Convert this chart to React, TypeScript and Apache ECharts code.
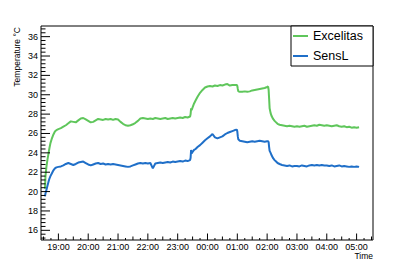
import React, { useEffect, useRef } from "react";
import * as echarts from "echarts";

const times = [
  "18:33","18:34","18:36","18:38","18:40","18:42","18:44","18:47","18:50","18:53","18:56",
  "19:00","19:05","19:10","19:15","19:20","19:25","19:30","19:35","19:40","19:45","19:50","19:55",
  "20:00","20:05","20:10","20:15","20:20","20:25","20:30","20:35","20:40","20:45","20:50","20:55",
  "21:00","21:05","21:10","21:15","21:20","21:25","21:30","21:35","21:40","21:45","21:50","21:55",
  "22:00","22:05","22:10","22:15","22:20","22:25","22:30","22:35","22:40","22:45","22:50","22:55",
  "23:00","23:05","23:10","23:15","23:20","23:25",
  "23:26","23:27","23:28","23:30","23:33","23:36","23:40",
  "23:45","23:50","23:55","00:00","00:05","00:10","00:15","00:20","00:25","00:30","00:35","00:40","00:45","00:50","00:55",
  "00:59","01:00","01:01","01:02","01:05",
  "01:10","01:15","01:20","01:25","01:30","01:35","01:40","01:45","01:50","01:55","02:00",
  "02:02","02:03","02:04","02:05","02:07","02:09","02:12","02:15","02:18","02:21","02:25",
  "02:30","02:35","02:40","02:45","02:50","02:55",
  "03:00","03:05","03:10","03:15","03:20","03:25","03:30","03:35","03:40","03:45","03:50","03:55",
  "04:00","04:05","04:10","04:15","04:20","04:25","04:30","04:35","04:40","04:45","04:50","04:55",
  "05:00","05:05",
];

const excelitas = [
  20.3, 21.6, 22.6, 23.3, 23.9, 24.5, 25.0, 25.5, 25.9, 26.2, 26.35,
  26.45, 26.55, 26.7, 26.85, 27.05, 27.25, 27.2, 27.15, 27.35, 27.55, 27.6, 27.45,
  27.3, 27.15, 27.2, 27.35, 27.5, 27.45, 27.4, 27.5, 27.45, 27.5, 27.4, 27.5,
  27.45, 27.2, 27.0, 26.85, 26.8, 26.85, 26.95, 27.1, 27.3, 27.55, 27.6, 27.55,
  27.5, 27.55, 27.5, 27.6, 27.55, 27.5, 27.55, 27.6, 27.5, 27.55, 27.6, 27.55,
  27.6, 27.65, 27.6, 27.7, 27.65, 27.75,
  28.0, 28.6, 28.4, 28.7, 29.1, 29.4, 29.8,
  30.2, 30.5, 30.75, 30.85, 30.9, 30.85, 30.95, 30.9, 31.0, 30.95, 31.05, 31.1, 30.95, 31.0, 31.0,
  31.0, 30.9, 30.6, 30.35, 30.3,
  30.3, 30.35, 30.3, 30.35, 30.45, 30.5, 30.55, 30.6, 30.65, 30.7, 30.8,
  30.85, 30.5, 29.6, 28.6, 28.1, 27.8, 27.5, 27.3, 27.15, 27.0, 26.9,
  26.85, 26.8, 26.75, 26.8, 26.75, 26.7,
  26.75, 26.7, 26.75, 26.8, 26.7, 26.75, 26.8, 26.85, 26.8, 26.9, 26.85, 26.8,
  26.85, 26.8, 26.75, 26.8, 26.85, 26.75, 26.7, 26.75, 26.65, 26.7, 26.6, 26.65,
  26.6, 26.65,
];

const sensl = [
  19.5, 19.8, 20.2, 20.6, 21.0, 21.35, 21.6, 21.9, 22.2, 22.4, 22.5,
  22.55, 22.6, 22.7, 22.85, 22.95, 22.85, 22.75, 22.85, 23.0, 23.05, 23.1, 22.95,
  22.8, 22.7, 22.8, 22.9, 22.95, 22.85, 22.9, 22.8, 22.85, 22.8, 22.85, 22.8,
  22.75, 22.7, 22.65, 22.6, 22.55, 22.6, 22.7, 22.8, 22.9, 22.95, 22.9, 22.95,
  22.9, 22.95, 22.4, 22.9, 22.95, 23.0, 22.95, 23.0, 23.05, 23.0, 23.1, 23.05,
  23.1, 23.15, 23.1, 23.2, 23.15, 23.25,
  23.5, 24.3, 23.95, 24.1, 24.3, 24.4, 24.6,
  24.8, 25.05, 25.3, 25.5, 25.7, 25.95, 25.6, 25.5, 25.6, 25.7, 25.9, 26.05, 26.15, 26.25, 26.35,
  26.4, 26.2, 25.7, 25.4, 25.25,
  25.2, 25.15, 25.1, 25.15, 25.2, 25.15, 25.2, 25.25, 25.2, 25.15, 25.2,
  25.2, 25.1, 24.6, 24.2, 24.0, 23.75, 23.45, 23.25, 23.1, 22.95, 22.85,
  22.75, 22.7, 22.65, 22.7, 22.6, 22.65,
  22.65, 22.6, 22.7, 22.65, 22.6, 22.7, 22.75, 22.7, 22.75, 22.7, 22.75, 22.7,
  22.7, 22.65, 22.7, 22.6, 22.65, 22.7, 22.6, 22.65, 22.6, 22.55, 22.6, 22.55,
  22.6, 22.55,
];

const seriesNames = ["Excelitas", "SensL"];
const yLabels = [16, 18, 20, 22, 24, 26, 28, 30, 32, 34, 36];

const X_MIN = 1105; // 18:25
const X_MAX = 1773; // 05:33
const Y_MIN = 15;
const Y_MAX = 37.1;

function toMin(t: string): number {
  const [h, m] = t.split(":").map(Number);
  const base = h * 60 + m;
  return h < 12 ? base + 1440 : base;
}

const FONT = "'Liberation Sans', Arial, Helvetica, sans-serif";

export default function App() {
  const ref = useRef<HTMLDivElement>(null);
  useEffect(() => {
    document.body.style.margin = "0";
    if (!ref.current) return;
    const chart = echarts.init(ref.current, null, { renderer: "svg" });

    const xTicks: number[][] = [];
    for (let m = 1110; m <= 1770; m += 15) {
      xTicks.push([m, m % 60 === 0 ? 2 : m % 30 === 0 ? 1 : 0]);
    }
    const yTicks: number[][] = [];
    for (let k = -2; k <= 52; k++) {
      const v = Math.round((16 + 0.4 * k) * 10) / 10;
      if (v < Y_MIN || v > Y_MAX) continue;
      yTicks.push([X_MIN, v, k % 5 === 0 ? 1 : 0]);
    }

    const xLen = [2, 3.5, 6.5];
    const yLen = [4.5, 9];

    chart.setOption({
      animation: false,
      textStyle: { fontFamily: FONT },
      grid: {
        left: 41,
        top: 26,
        width: 332,
        height: 214,
        show: true,
        borderColor: "#000",
        borderWidth: 1,
        backgroundColor: "transparent",
      },
      xAxis: {
        type: "value",
        min: X_MIN,
        max: X_MAX,
        interval: 5,
        axisLine: { show: false },
        axisTick: { show: false },
        splitLine: { show: false },
        axisLabel: {
          fontSize: 9,
          color: "#000",
          fontFamily: FONT,
          margin: 2,
          showMinLabel: true,
          showMaxLabel: true,
          formatter: (v: number) => {
            if (v % 60 !== 0) return "";
            const h = Math.floor((v % 1440) / 60);
            return (h < 10 ? "0" : "") + h + ":00";
          },
        },
      },
      yAxis: {
        type: "value",
        min: Y_MIN,
        max: Y_MAX,
        interval: 1,
        axisLine: { show: false },
        axisTick: { show: false },
        splitLine: { show: false },
        axisLabel: {
          fontSize: 9,
          color: "#000",
          fontFamily: FONT,
          margin: 3,
          formatter: (v: number) => (yLabels.indexOf(v) >= 0 ? String(v) : ""),
        },
      },
      legend: {
        left: 291,
        top: 26,
        orient: "vertical",
        data: seriesNames,
        icon: "rect",
        itemWidth: 15,
        itemHeight: 2,
        itemGap: 6,
        padding: [3, 10, 3, 2],
        borderColor: "#000",
        borderWidth: 1,
        borderRadius: 0,
        backgroundColor: "#fff",
        textStyle: { fontSize: 12.5, color: "#000", fontFamily: FONT, lineHeight: 14 },
      },
      graphic: [
        {
          type: "text",
          x: 17,
          y: 27,
          rotation: Math.PI / 2,
          style: {
            text: "Temperature °C",
            fontSize: 8.5,
            fontFamily: FONT,
            fill: "#000",
            align: "right",
            verticalAlign: "middle",
          },
        },
        {
          type: "text",
          x: 373,
          y: 256,
          style: {
            text: "Time",
            fontSize: 8.5,
            fontFamily: FONT,
            fill: "#000",
            align: "right",
            verticalAlign: "middle",
          },
        },
      ],
      series: [
        {
          name: seriesNames[0],
          type: "line",
          data: times.map((t, i) => [toMin(t), excelitas[i]]),
          symbol: "none",
          lineStyle: { color: "#5fc65b", width: 2 },
          itemStyle: { color: "#5fc65b" },
          z: 3,
        },
        {
          name: seriesNames[1],
          type: "line",
          data: times.map((t, i) => [toMin(t), sensl[i]]),
          symbol: "none",
          lineStyle: { color: "#1f6fc8", width: 2 },
          itemStyle: { color: "#1f6fc8" },
          z: 3,
        },
        {
          type: "custom",
          silent: true,
          clip: false,
          data: xTicks,
          renderItem: (params: any, api: any) => {
            const p = api.coord([api.value(0), Y_MIN]);
            const len = xLen[api.value(1)];
            return {
              type: "line",
              shape: { x1: p[0], y1: p[1], x2: p[0], y2: p[1] - len },
              style: { stroke: "#000", lineWidth: 1 },
            };
          },
          z: 4,
        },
        {
          type: "custom",
          silent: true,
          clip: false,
          data: yTicks,
          renderItem: (params: any, api: any) => {
            const p = api.coord([X_MIN, api.value(1)]);
            const len = yLen[api.value(2)];
            return {
              type: "line",
              shape: { x1: p[0], y1: p[1], x2: p[0] + len, y2: p[1] },
              style: { stroke: "#000", lineWidth: 1 },
            };
          },
          z: 4,
        },
      ],
    });
    return () => chart.dispose();
  }, []);
  return <div ref={ref} style={{ width: 415, height: 267 }} />;
}
